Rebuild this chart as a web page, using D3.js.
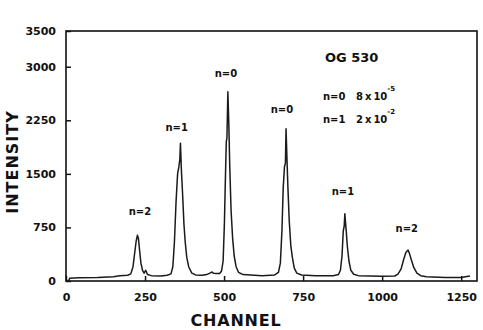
<!DOCTYPE html>
<html>
<head>
<meta charset="utf-8">
<script src="https://cdn.jsdelivr.net/npm/d3@7"></script>
<style>
  body { margin: 0; background: #fff; }
  svg { display: block; font-family: "DejaVu Sans", sans-serif; font-weight: bold; }
  .tick text { font-size: 11px; fill: #111; }
  .tick line, .domain { stroke: #111; }
</style>
</head>
<body>
<svg width="483" height="330"></svg>
<script>
// spectrum: channel, intensity
const channels = [8, 12, 40, 100, 150, 170, 195, 205, 212, 218, 222, 226, 229, 233, 237, 242, 247, 252, 258, 270, 300,
    320, 332, 338, 343, 348, 353, 357, 360, 362, 365, 369, 373, 377, 382, 388, 398, 410, 430, 445, 455, 462, 466, 475,
    486, 492, 497, 501, 504, 507, 509, 512, 515, 518, 522, 527, 532, 538, 546, 560, 620, 660,
    672, 678, 683, 687, 691, 694, 696, 699, 702, 706, 711, 716, 722, 730, 745, 790, 845,
    862, 868, 873, 877, 880, 882, 886, 890, 895, 901, 910, 925, 1000, 1040,
    1050, 1060, 1068, 1075, 1079, 1082, 1086, 1092, 1100, 1110, 1122, 1140, 1200, 1250, 1278];
const intensity = [0, 40, 45, 50, 60, 75, 80, 100, 200, 420, 560, 640, 600, 420, 250, 150, 110, 150, 90, 75, 70,
    80, 100, 200, 550, 1100, 1500, 1600, 1700, 1930, 1550, 1200, 800, 550, 330, 200, 110, 85, 80, 90, 110, 126, 110, 105,
    105, 140, 280, 800, 1400, 1950, 2000, 2650, 2200, 1600, 1000, 600, 350, 200, 120, 90, 75, 85,
    120, 250, 700, 1300, 1600, 1650, 2130, 1700, 1300, 850, 500, 330, 180, 110, 85, 75, 75,
    90, 150, 350, 700, 770, 940, 720, 480, 280, 150, 95, 75, 65, 70,
    95, 170, 300, 400, 420, 434, 390, 300, 190, 110, 75, 60, 50, 50, 70];

const xTicks = [0, 250, 500, 750, 1000, 1250];
const yTicks = [0, 750, 1500, 2250, 3000, 3500];

// peak labels: text, channel, intensity where the label sits
const peakNames = ['n=2', 'n=1', 'n=0', 'n=0', 'n=1', 'n=2'];
const peakChannel = [234, 350, 506, 683, 876, 1078];
const peakLevel = [924, 2100, 2856, 2352, 1204, 686];

const svg = d3.select('svg');
const mLeft = 66, mRight = 477, mTop = 31, mBottom = 281;

const x = d3.scaleLinear().domain([0, 1300]).range([mLeft, mRight]);
const y = d3.scaleLinear().domain([0, 3500]).range([mBottom, mTop]);

// frame
svg.append('rect')
    .attr('x', mLeft).attr('y', mTop)
    .attr('width', mRight - mLeft).attr('height', mBottom - mTop)
    .attr('fill', 'none').attr('stroke', '#111').attr('stroke-width', 1.6);

const xAxis = svg.append('g')
    .attr('transform', `translate(0, ${mBottom})`)
    .call(d3.axisBottom(x).tickValues(xTicks).tickFormat(d3.format('d'))
        .tickSizeInner(-5).tickSizeOuter(0).tickPadding(12));
const yAxis = svg.append('g')
    .attr('transform', `translate(${mLeft}, 0)`)
    .call(d3.axisLeft(y).tickValues(yTicks).tickFormat(d3.format('d'))
        .tickSizeInner(-5).tickSizeOuter(0).tickPadding(10));
[xAxis, yAxis].forEach(a => {
    a.select('.domain').remove();
    a.selectAll('.tick line').attr('stroke-width', 1.5);
    a.selectAll('.tick text').attr('font-family', 'DejaVu Sans').attr('font-weight', 'bold');
});

// spectrum curve
const pts = channels.map((c, i) => [c, intensity[i]]);
svg.append('path')
    .datum(pts)
    .attr('fill', 'none')
    .attr('stroke', '#1a1a1a')
    .attr('stroke-width', 1.5)
    .attr('stroke-linejoin', 'round')
    .attr('d', d3.line().x(d => x(d[0])).y(d => y(d[1])));

// peak labels
svg.selectAll('.peak')
    .data(peakNames)
    .enter()
    .append('text')
    .attr('class', 'peak')
    .attr('x', (d, i) => x(peakChannel[i]))
    .attr('y', (d, i) => y(peakLevel[i]))
    .attr('text-anchor', 'middle')
    .attr('font-size', 10)
    .attr('fill', '#111')
    .text(d => d);

// legend block
svg.append('text')
    .attr('x', 325).attr('y', 62)
    .attr('font-size', 13).attr('fill', '#111')
    .text('OG 530');

const legend = [['n=0', '8', '-5', 100], ['n=1', '2', '-2', 123]];
legend.forEach(l => {
    const t = svg.append('text')
        .attr('x', 323).attr('y', l[3])
        .attr('font-size', 10).attr('fill', '#111');
    t.append('tspan').text(l[0]);
    t.append('tspan').attr('x', 356).text(l[1] + '\u2009x\u200910');
    t.append('tspan').attr('dy', -9).attr('font-size', 7).text(l[2]);
});

// axis titles
svg.append('text')
    .attr('transform', 'translate(18, 162) rotate(-90)')
    .attr('text-anchor', 'middle')
    .attr('font-size', 16)
    .attr('letter-spacing', 1)
    .attr('fill', '#111')
    .text('INTENSITY');

svg.append('text')
    .attr('x', 236).attr('y', 326)
    .attr('text-anchor', 'middle')
    .attr('font-size', 16)
    .attr('letter-spacing', 0.8)
    .attr('fill', '#111')
    .text('CHANNEL');
</script>
</body>
</html>
